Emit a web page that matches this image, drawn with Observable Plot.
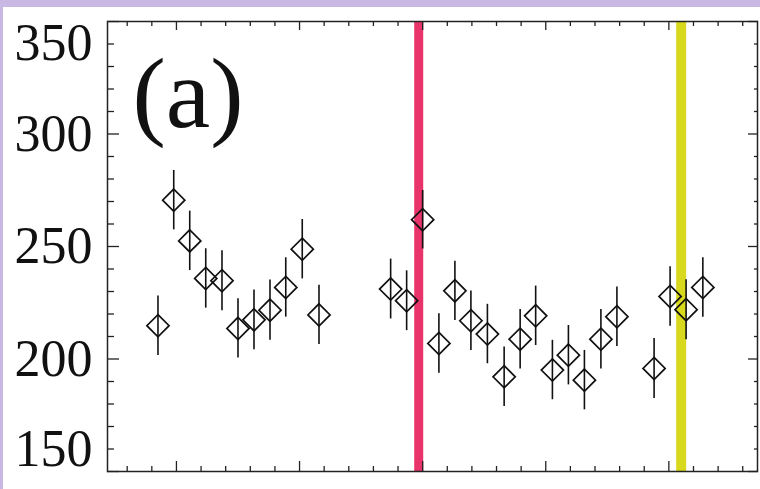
<!DOCTYPE html>
<html><head><meta charset="utf-8">
<script src="https://cdn.jsdelivr.net/npm/d3@7"></script>
<script src="https://cdn.jsdelivr.net/npm/@observablehq/plot@0.6"></script>
<style>
html,body{margin:0;padding:0;background:#fff;}
#wrap{position:absolute;left:0;top:0;width:760px;height:489px;background:#c9b8e3;}
#chart{position:absolute;left:3px;top:7px;width:757px;height:482px;background:#fff;}
</style></head><body><div id="wrap"><div id="chart"></div></div>
<script>
// data
const xs = [4.25,4.89,5.54,6.19,6.85,7.50,8.15,8.80,9.44,10.11,10.79,
            13.70,14.35,15.00,15.66,16.31,16.96,17.63,18.31,18.96,19.59,20.27,20.92,21.57,22.24,22.89,
            24.40,25.05,25.70,26.38];
const ys = [214.8,270.6,252.5,235.8,234.8,213.6,217.4,221.7,231.8,248.8,219.6,
            231.1,225.9,261.9,206.9,230.3,217.0,211.1,192.1,208.8,219.2,195.1,201.7,190.6,208.8,218.8,
            195.8,227.8,221.9,231.8];
const errs = [13.2,13.2,13.2,13.2,13.3,13.2,13.3,13.4,13.2,13.2,13.2,
              13.3,13.3,13.0,13.2,13.2,13.2,13.2,13.2,13.2,13.2,13.2,13.2,13.2,13.2,13.2,
              13.3,13.2,13.3,13.2];
const redLine = [14.84];
const yellowLine = [25.5];
const xMajor = [5,10,15,20,25];
const xMinor = [3,4,6,7,8,9,11,12,13,14,16,17,18,19,21,22,23,24,26,27,28];
const yMajor = [150,200,250,300,350];
const yMinor = [160,170,180,190,210,220,230,240,260,270,280,290,310,320,330,340];
const yLabelsMid = [200,250,300];
const yLabelTop = [350];
const yLabelBottom = [150];
const panelLabel = ["(a)"];

const serif = "'Liberation Serif', 'Times New Roman', 'DejaVu Serif', serif";
const data = xs.map((x,i)=>({x, y: ys[i], lo: ys[i]-errs[i], hi: ys[i]+errs[i]}));
const blank = () => "";
const tickStyle = {tickFormat: blank, label: null, stroke: "#222", strokeWidth: 1.3};
const lblStyle = {anchor: "left", tickSize: 0, tickPadding: 15, fontSize: 52, fontFamily: serif, label: null, fill: "#111", stroke: "#111", strokeWidth: 0.4};

const plot = Plot.plot({
  width: 757, height: 482,
  marginLeft: 104, marginRight: 3, marginTop: 14, marginBottom: 18,
  style: {fontFamily: serif, background: "#fff", color: "#111"},
  x: {domain: [2.2, 28.6]},
  y: {domain: [150, 350]},
  marks: [
    Plot.ruleX(redLine, {x: d=>d, stroke: "#e8336b", strokeWidth: 9}),
    Plot.ruleX(yellowLine, {x: d=>d, stroke: "#d8d81c", strokeWidth: 10}),
    Plot.ruleX(data, {x: "x", y1: "lo", y2: "hi", stroke: "#111", strokeWidth: 1.6}),
    Plot.dot(data, {x: "x", y: "y", symbol: "diamond2", r: 10, stroke: "#111", strokeWidth: 1.7, fill: "none"}),
    Plot.axisX(xMajor, {anchor: "bottom", tickSize: -10, ...tickStyle}),
    Plot.axisX(xMinor, {anchor: "bottom", tickSize: -5, ...tickStyle}),
    Plot.axisX(xMajor, {anchor: "top", tickSize: -8, ...tickStyle}),
    Plot.axisX(xMinor, {anchor: "top", tickSize: -4, ...tickStyle}),
    Plot.axisY(yMajor, {anchor: "left", tickSize: -12, ...tickStyle}),
    Plot.axisY(yMinor, {anchor: "left", tickSize: -7, ...tickStyle}),
    Plot.axisY(yMajor, {anchor: "right", tickSize: -10, ...tickStyle}),
    Plot.axisY(yMinor, {anchor: "right", tickSize: -4, ...tickStyle}),
    Plot.axisY(yLabelsMid, lblStyle),
    Plot.axisY(yLabelTop, {...lblStyle, dy: 22}),
    Plot.axisY(yLabelBottom, {...lblStyle, dy: -22}),
    Plot.frame({stroke: "#222", strokeWidth: 1.5}),
    Plot.text(panelLabel, {frameAnchor: "top-left", text: d=>d, dx: 25, dy: 34, fontSize: 100, fontFamily: serif, textAnchor: "start", lineAnchor: "top", fill: "#111"})
  ]
});
document.getElementById("chart").appendChild(plot);
</script></body></html>
